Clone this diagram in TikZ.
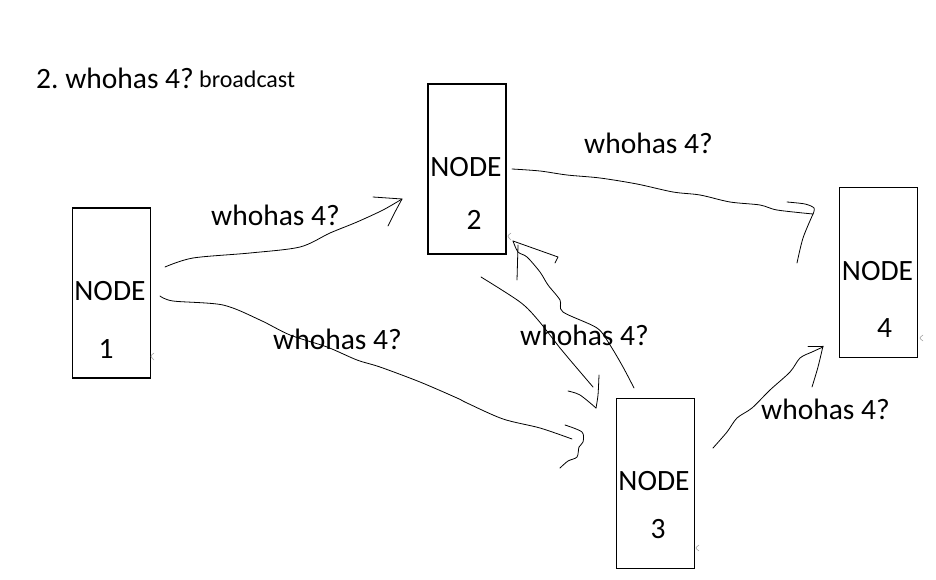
\documentclass[tikz,border=0pt]{standalone}
\usepackage{fontspec}
\setmainfont{Carlito}
\frenchspacing
\begin{document}
\begin{tikzpicture}[x=1pt,y=-1pt,
  nodebox/.style={draw=black, line width=1.6pt, fill=white, inner sep=0pt, minimum width=78pt, minimum height=170pt},
  bigtxt/.style={inner sep=0pt, anchor=base west, font=\fontsize{29.5}{31}\selectfont},
  smalltxt/.style={inner sep=0pt, anchor=base west, font=\fontsize{24}{26}\selectfont},
  ctxt/.style={inner sep=0pt, anchor=base, font=\fontsize{29.5}{31}\selectfont},
  hand/.style={draw=black, line width=0.8pt, line cap=round, line join=round},
  speck/.style={draw=gray!70, line width=0.6pt}]
\useasboundingbox[fill=white] (0,0) rectangle (936,580);

% boxes
\node[nodebox] (n1) at (111.5,293) {};
\node[nodebox] (n2) at (467,169) {};
\node[nodebox] (n3) at (655.5,483.5) {};
\node[nodebox] (n4) at (878.5,272.5) {};

% box texts
\node[ctxt] (n1a) at (110,300) {NODE};
\node[ctxt] (n1b) at (106,358) {1};
\node[ctxt] (n2a) at (466,177) {NODE};
\node[ctxt] (n2b) at (474,229) {2};
\node[ctxt] (n3a) at (654,490) {NODE};
\node[ctxt] (n3b) at (658,538) {3};
\node[ctxt] (n4a) at (877.5,280) {NODE};
\node[ctxt] (n4b) at (884.5,337) {4};

% title
\node[bigtxt] (title) at (36,89) {2. whohas 4?};
\node[smalltxt] (bc) at (199,88) {broadcast};

% edge labels
\node[bigtxt] (l12) at (211,225) {whohas 4?};
\node[bigtxt] (l13) at (273,349) {whohas 4?};
\node[bigtxt] (l23) at (520,345) {whohas 4?};
\node[bigtxt] (l24) at (584,154) {whohas 4?};
\node[bigtxt] (l34) at (761,419) {whohas 4?};

% named coordinates
\coordinate (s12) at (165,267);  \coordinate (t12) at (402,199);
\coordinate (s13) at (160,296);  \coordinate (t13) at (572,439);
\coordinate (s23) at (481,277);  \coordinate (t23) at (596,408);
\coordinate (s32) at (634,388);  \coordinate (t32) at (513,241);
\coordinate (s24) at (512,169);  \coordinate (t24) at (813,214);
\coordinate (s34) at (713,448);  \coordinate (t34) at (823,347);

% 1 -> 2
\draw[hand] plot[smooth, tension=0.5] coordinates {(s12) (193,258) (250,253) (300,247) (330,233) (357,222) (383,210) (t12)};
\draw[hand] (373,197) -- (t12) -- (395,212) -- (388,226);

% 1 -> 3
\draw[hand] plot[smooth, tension=0.5] coordinates {(s13) (173,301) (223,305) (260,320) (290,335) (327,347) (357,360) (380,367) (420,382) (457,398) (467,403) (503,419) (540,428) (t13)};
\draw[hand] plot[smooth, tension=0.5] coordinates {(565,425) (582,432) (583,442) (579,447) (577,457) (568,461) (560,468)};

% 2 -> 3
\draw[hand] plot[smooth, tension=0.5] coordinates {(s23) (520,302) (538,320) (560,348) (570,360) (593,387)};
\draw[hand] plot[smooth, tension=0.5] coordinates {(568,391) (580,395) (t23)};
\draw[hand] plot[smooth, tension=0.5] coordinates {(t23) (598,395) (599,375)};

% 3 -> 2
\draw[hand] plot[smooth, tension=0.5] coordinates {(s32) (623,367) (610,345) (597,328) (563,312) (560,300) (548,285) (540,272) (527,257) (518,252) (t32)};
\draw[hand] (t32) -- (558,257) -- (555,263);
\draw[hand] (518,245) -- (517,280);

% 2 -> 4
\draw[hand] plot[smooth, tension=0.5] coordinates {(s24) (540,171) (567,175) (600,178) (637,184) (673,192) (700,195) (730,202) (760,205) (777,210) (t24)};
\draw[hand] plot[smooth, tension=0.5] coordinates {(787,202) (805,204) (814,208) (t24)};
\draw[hand] plot[smooth, tension=0.5] coordinates {(t24) (803,238) (797,263)};

% 3 -> 4
\draw[hand] plot[smooth, tension=0.5] coordinates {(s34) (727,432) (737,418) (752,408) (770,390) (790,372) (800,358) (812,352) (t34)};
\draw[hand] (808,346) -- (823,346);
\draw[hand] plot[smooth, tension=0.5] coordinates {(823,346) (818,367) (812,387)};

% small gray specks
\draw[speck] (154,353) .. controls (150,356) .. (154,360);
\draw[speck] (511,233) .. controls (507,236) .. (511,240);
\draw[speck] (699,545) .. controls (695,548) .. (699,551);
\draw[speck] (923,335) .. controls (919,338) .. (923,341);
\end{tikzpicture}
\end{document}
